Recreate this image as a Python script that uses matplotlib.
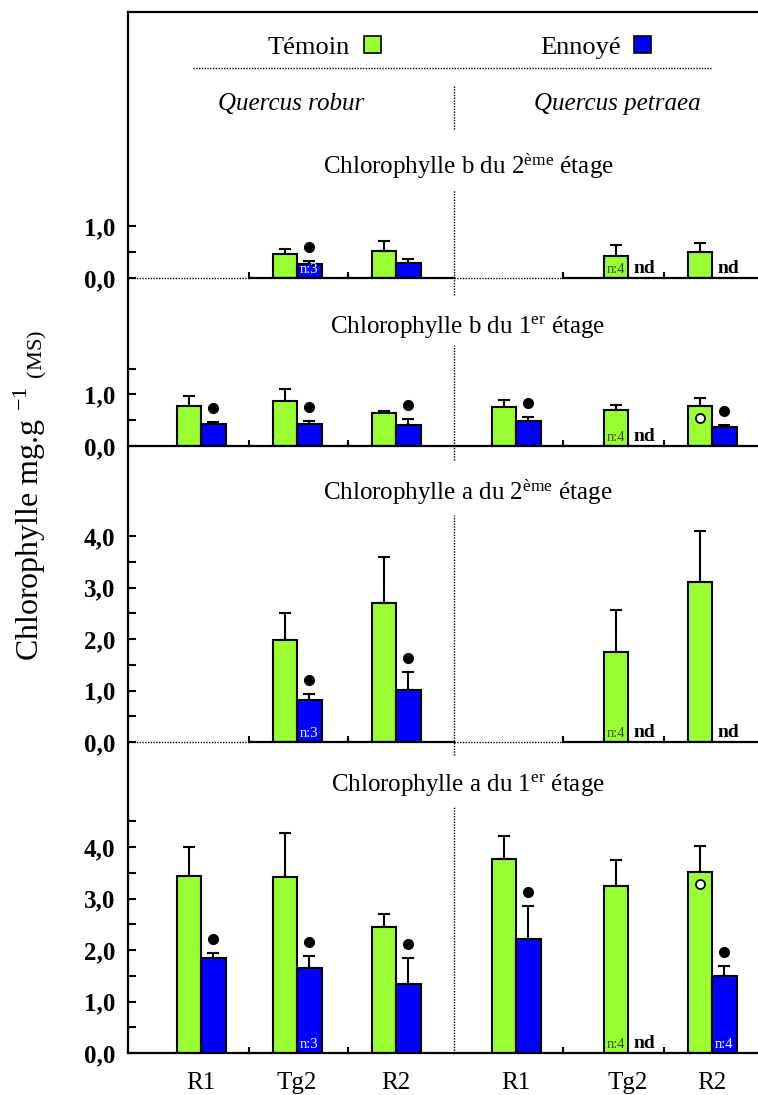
import numpy as np
import matplotlib
matplotlib.use('Agg')
import matplotlib.pyplot as plt
from matplotlib.patches import Rectangle
from matplotlib.lines import Line2D

plt.rcParams['font.family'] = 'Liberation Serif'
plt.rcParams['mathtext.fontset'] = 'custom'
plt.rcParams['mathtext.rm'] = 'Liberation Serif'
plt.rcParams['mathtext.it'] = 'Liberation Serif:italic'

nan = np.nan
groups = ['R1', 'Tg2', 'R2', 'R1', 'Tg2', 'R2']

# Chlorophylle b du 2eme etage
b2_tem = [nan, 0.47, 0.52, nan, 0.43, 0.50]
b2_tem_se = [nan, 0.09, 0.19, nan, 0.22, 0.17]
b2_enn = [nan, 0.28, 0.30, nan, nan, nan]
b2_enn_se = [nan, 0.05, 0.07, nan, nan, nan]
b2_sig = [0, 1, 0, 0, 0, 0]
b2_open = [0, 0, 0, 0, 0, 0]
b2_n_tem = ['', '', '', '', 'n:4', '']
b2_n_enn = ['', 'n:3', '', '', '', '']

# Chlorophylle b du 1er etage
b1_tem = [0.78, 0.88, 0.65, 0.76, 0.70, 0.77]
b1_tem_se = [0.19, 0.22, 0.03, 0.13, 0.09, 0.16]
b1_enn = [0.42, 0.42, 0.40, 0.48, nan, 0.37]
b1_enn_se = [0.04, 0.06, 0.13, 0.08, nan, 0.03]
b1_sig = [1, 1, 1, 1, 0, 1]
b1_open = [0, 0, 0, 0, 0, 1]
b1_n_tem = ['', '', '', '', 'n:4', '']
b1_n_enn = ['', '', '', '', '', '']

# Chlorophylle a du 2eme etage
a2_tem = [nan, 1.98, 2.70, nan, 1.75, 3.10]
a2_tem_se = [nan, 0.52, 0.89, nan, 0.81, 1.00]
a2_enn = [nan, 0.82, 1.01, nan, nan, nan]
a2_enn_se = [nan, 0.11, 0.35, nan, nan, nan]
a2_sig = [0, 1, 1, 0, 0, 0]
a2_open = [0, 0, 0, 0, 0, 0]
a2_n_tem = ['', '', '', '', 'n:4', '']
a2_n_enn = ['', 'n:3', '', '', '', '']

# Chlorophylle a du 1er etage
a1_tem = [3.44, 3.42, 2.45, 3.76, 3.24, 3.52]
a1_tem_se = [0.56, 0.86, 0.25, 0.45, 0.50, 0.49]
a1_enn = [1.84, 1.65, 1.34, 2.22, nan, 1.50]
a1_enn_se = [0.11, 0.24, 0.51, 0.64, nan, 0.19]
a1_sig = [1, 1, 1, 1, 0, 1]
a1_open = [0, 0, 0, 0, 0, 1]
a1_n_tem = ['', '', '', '', 'n:4', '']
a1_n_enn = ['', 'n:3', '', '', '', 'n:4']

GREEN = '#99ff33'
BLUE = '#0000ff'
DOT = (0, (1, 1))

W, H = 758, 1095
U = 51.5          # pixels per unit on every panel
X0, X1 = 128, 758
centers = [201, 297, 396, 516, 628, 712]
bounds = [128, 249, 348, 454, 563, 664, 758]
SEP = 454
BW = 24.5

fig = plt.figure(figsize=(W / 100, H / 100), dpi=100)


def fx(x):
    return x / W


def fy(y):
    return 1 - y / H


def fmt(v):
    return f'{v:.1f}'.replace('.', ',')


def panel(base, ymax, ymaj, ymin, tem, tem_se, enn, enn_se, sig, opn,
          n_tem, n_enn, sep_span, xlabels=False):
    ax = fig.add_axes([fx(X0), fy(base), fx(X1) - fx(X0), ymax * U / H])
    ax.set_xlim(X0, X1)
    ax.set_ylim(0, ymax)
    ax.patch.set_visible(False)
    for s in ax.spines.values():
        s.set_visible(False)

    for i, c in enumerate(centers):
        if not np.isnan(tem[i]):
            ax.bar(c - BW / 2, tem[i], BW, color=GREEN, edgecolor='k',
                   lw=1.5, zorder=3)
            ax.errorbar(c - BW / 2, tem[i], yerr=[[0], [tem_se[i]]], fmt='none',
                        ecolor='k', elinewidth=1.5, capsize=4, capthick=1.5,
                        zorder=2)
            if opn[i]:
                ax.plot(c - BW / 2, tem[i] - 0.23, 'o', mfc='white', mec='k',
                        ms=6.5, mew=1.3, zorder=4)
            if n_tem[i]:
                ax.text(c - BW / 2, 0.04, n_tem[i], ha='center', va='bottom',
                        fontsize=10.5, color='#2d5200', zorder=5)
        if not np.isnan(enn[i]):
            ax.bar(c + BW / 2, enn[i], BW, color=BLUE, edgecolor='k',
                   lw=1.5, zorder=3)
            ax.errorbar(c + BW / 2, enn[i], yerr=[[0], [enn_se[i]]], fmt='none',
                        ecolor='k', elinewidth=1.5, capsize=4, capthick=1.5,
                        zorder=2)
            if sig[i]:
                ax.plot(c + BW / 2, enn[i] + enn_se[i] + 0.27, 'o', color='k',
                        ms=7, zorder=4)
            if n_enn[i]:
                ax.text(c + BW / 2, 0.04, n_enn[i], ha='center', va='bottom',
                        fontsize=10.5, color='white', zorder=5)
        elif not np.isnan(tem[i]):
            ax.text(c + 6, 0.02, 'nd', ha='left', va='bottom', fontsize=14,
                    fontweight='bold')

    # baseline: solid under groups with data, dotted elsewhere
    for i in range(len(centers)):
        has = not (np.isnan(tem[i]) and np.isnan(enn[i]))
        ax.plot([bounds[i], bounds[i + 1]], [0, 0], color='k',
                lw=1.6 if has else 1, ls='-' if has else DOT, clip_on=False,
                zorder=6)

    ax.plot([SEP, SEP], sep_span, color='k', lw=1, ls=DOT, clip_on=False)

    ax.set_yticks(ymaj, [fmt(v) for v in ymaj])
    ax.set_yticks(ymin, minor=True)
    ax.tick_params(axis='y', which='both', direction='in', length=6, width=1.5,
                   pad=9, labelsize=18)
    for t in ax.get_yticklabels():
        t.set_fontweight('bold')

    ax.set_xticks([b for b in bounds[1:-1] if b != SEP], minor=True)
    ax.tick_params(axis='x', which='minor', direction='in', length=4, width=1.5)
    if xlabels:
        ax.set_xticks(centers, groups)
        ax.tick_params(axis='x', which='major', length=0, pad=14, labelsize=18)
    else:
        ax.set_xticks([])
    return ax


panel(278, 1.9, [0, 1], [0.5], b2_tem, b2_tem_se, b2_enn, b2_enn_se, b2_sig,
      b2_open, b2_n_tem, b2_n_enn, (-0.33, 1.7))
panel(446, 2.1, [0, 1], [0.5, 1.5], b1_tem, b1_tem_se, b1_enn, b1_enn_se,
      b1_sig, b1_open, b1_n_tem, b1_n_enn, (-0.27, 1.96))
panel(742, 4.6, [0, 1, 2, 3, 4], np.arange(0.5, 4, 1), a2_tem, a2_tem_se,
      a2_enn, a2_enn_se, a2_sig, a2_open, a2_n_tem, a2_n_enn, (-0.25, 4.4))
panel(1053, 5.0, [0, 1, 2, 3, 4], np.arange(0.5, 5, 1), a1_tem, a1_tem_se,
      a1_enn, a1_enn_se, a1_sig, a1_open, a1_n_tem, a1_n_enn, (0, 4.8),
      xlabels=True)

# frame
fig.add_artist(Line2D([fx(128), fx(128)], [fy(12), fy(1053)], color='k', lw=1.6))
fig.add_artist(Line2D([fx(128), fx(758)], [fy(12), fy(12)], color='k', lw=1.6))

# header
fig.text(fx(350), fy(54), 'Témoin', ha='right', va='baseline', fontsize=19)
fig.add_artist(Rectangle((fx(364), fy(53)), 17 / W, 17 / H, facecolor=GREEN,
                         edgecolor='k', lw=1.2, transform=fig.transFigure))
fig.text(fx(621), fy(54), 'Ennoyé', ha='right', va='baseline', fontsize=19)
fig.add_artist(Rectangle((fx(634), fy(53)), 17 / W, 17 / H, facecolor=BLUE,
                         edgecolor='k', lw=1.2, transform=fig.transFigure))
fig.add_artist(Line2D([fx(193), fx(712)], [fy(68), fy(68)], color='k', lw=1,
                      ls=DOT))
fig.text(fx(291), fy(110), 'Quercus robur', ha='center', va='baseline',
         fontsize=18, style='italic')
fig.text(fx(617), fy(110), 'Quercus petraea', ha='center', va='baseline',
         fontsize=18, style='italic')
fig.add_artist(Line2D([fx(SEP), fx(SEP)], [fy(86), fy(130)], color='k', lw=1,
                      ls=DOT))

# panel titles
fig.text(fx(468), fy(174), 'Chlorophylle b du 2$^{\\mathrm{ème}}$ étage',
         ha='center', va='baseline', fontsize=18)
fig.text(fx(468), fy(333), 'Chlorophylle b du 1$^{\\mathrm{er}}$ étage',
         ha='center', va='baseline', fontsize=18)
fig.text(fx(468), fy(500), 'Chlorophylle a du 2$^{\\mathrm{ème}}$ étage',
         ha='center', va='baseline', fontsize=18)
fig.text(fx(468), fy(791), 'Chlorophylle a du 1$^{\\mathrm{er}}$ étage',
         ha='center', va='baseline', fontsize=18)

fig.text(fx(30), fy(495), 'Chlorophylle mg.g $^{\\mathrm{-1}}$ $_{\\mathrm{(MS)}}$',
         rotation=90, ha='center', va='center', fontsize=23)

plt.savefig('out.png', dpi=100)
